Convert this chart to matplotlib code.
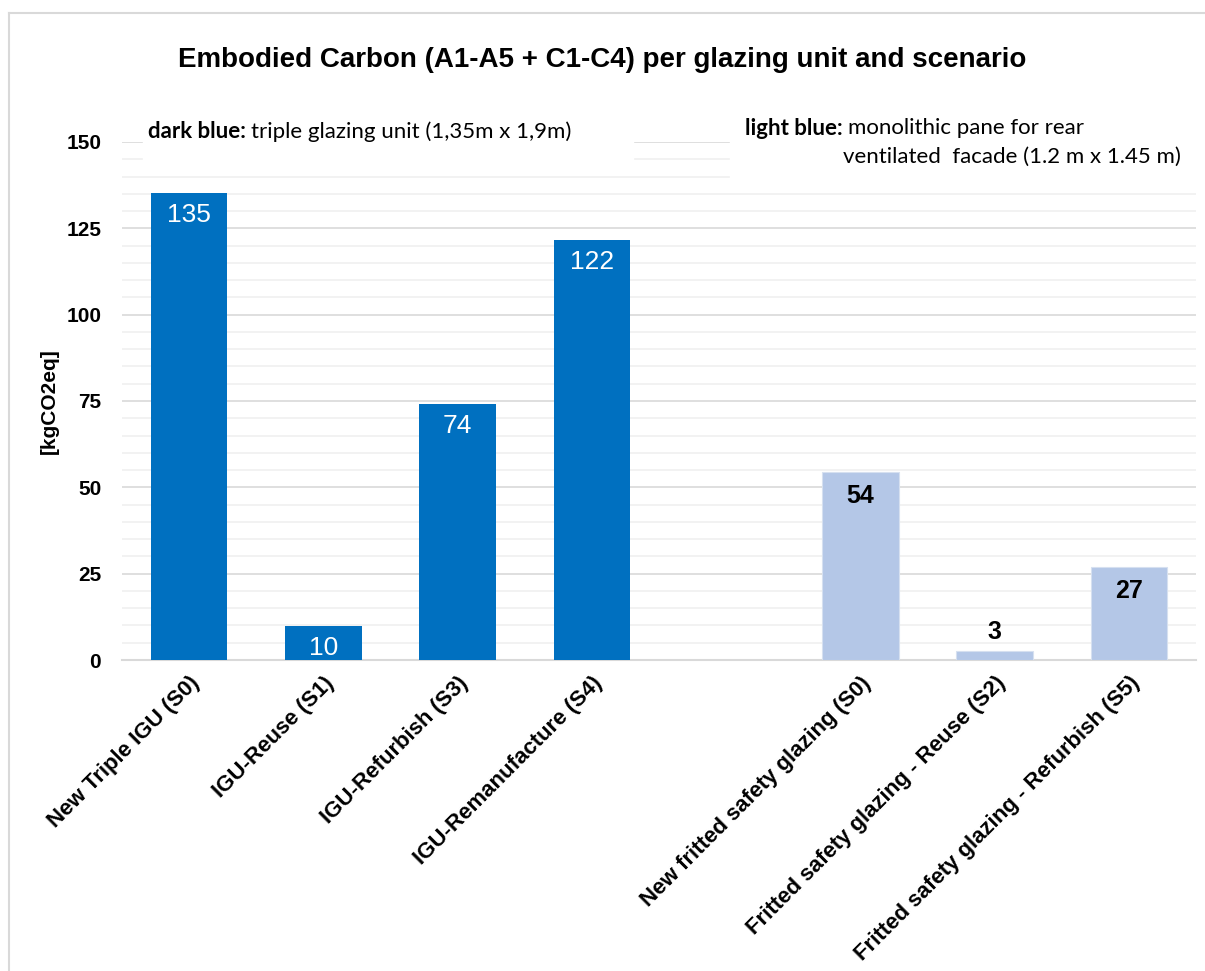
import matplotlib.pyplot as plt
import numpy as np

# data
labels = [
    "New Triple IGU (S0)",
    "IGU-Reuse (S1)",
    "IGU-Refurbish (S3)",
    "IGU-Remanufacture (S4)",
    "",
    "New fritted safety glazing (S0)",
    "Fritted safety glazing - Reuse (S2)",
    "Fritted safety glazing - Refurbish (S5)",
]
igu_values = [135.3, 9.9, 74.2, 121.7, np.nan, np.nan, np.nan, np.nan]
pane_values = [np.nan, np.nan, np.nan, np.nan, np.nan, 54.5, 2.6, 26.9]
igu_text = ["135", "10", "74", "122"]
pane_text = ["54", "3", "27"]
yticks = [0, 25, 50, 75, 100, 125, 150]

dark_blue = "#0070C0"
light_blue = "#B4C7E7"

plt.rcParams["font.family"] = ["Liberation Sans", "DejaVu Sans"]

W, H = 1205, 971
fig = plt.figure(figsize=(W / 100, H / 100), dpi=100)
ax = fig.add_axes([122 / W, 1 - 660 / H, 1074 / W, 518 / H])

x = np.arange(len(labels))
ax.bar(x, igu_values, width=0.57, color=dark_blue, zorder=3)
ax.bar(x, pane_values, width=0.57, color=light_blue,
       edgecolor="#D6E0F0", linewidth=0.8, zorder=3)

for xi, v, t in zip(x[:4], igu_values[:4], igu_text):
    ax.text(xi, v - 3, t, ha="center", va="top", color="white",
            fontsize=19, zorder=4)

for xi, v, t in zip(x[5:], pane_values[5:], pane_text):
    if v < 10:
        ax.text(xi, v + 2, t, ha="center", va="bottom", color="black",
                fontsize=18, fontweight="bold", zorder=4)
    else:
        ax.text(xi, v - 3.5, t, ha="center", va="top", color="black",
                fontsize=18, fontweight="bold", zorder=4)

ax.set_xlim(-0.5, len(labels) - 0.5)
ax.set_ylim(0, 150)
ax.set_yticks(yticks)
ax.set_yticks(np.arange(0, 151, 5), minor=True)
ax.grid(axis="y", which="major", color="#D9D9D9", linewidth=1.2, zorder=0)
ax.grid(axis="y", which="minor", color="#F0F0F0", linewidth=1.2, zorder=0)
ax.tick_params(axis="y", which="both", length=0, pad=15, labelsize=15)
for lbl in ax.get_yticklabels():
    lbl.set_fontweight("bold")

ax.set_xticks(x)
ax.set_xticklabels(labels, rotation=45, ha="right", rotation_mode="anchor",
                   fontsize=16, fontweight="bold")
ax.tick_params(axis="x", length=0, pad=9)
for s in ["top", "right", "left"]:
    ax.spines[s].set_visible(False)
ax.spines["bottom"].set_color("#D9D9D9")
ax.spines["bottom"].set_linewidth(1.5)

fig.text(49 / W, 1 - 401 / H, "[kgCO2eq]", rotation=90, ha="center", va="center",
         fontsize=15, fontweight="bold")

fig.text(0.5, 1 - 60 / H, "Embodied Carbon (A1-A5 + C1-C4) per glazing unit and scenario",
         ha="center", va="center", fontsize=20, fontweight="bold")

# white boxes behind the notes, they hide the gridlines
fig.patches.append(plt.Rectangle((143 / W, 1 - 168 / H), 490 / W, 58 / H,
                                 transform=fig.transFigure, color="white", zorder=5))
fig.patches.append(plt.Rectangle((730 / W, 1 - 185 / H), 475 / W, 75 / H,
                                 transform=fig.transFigure, color="white", zorder=5))

note_font = ["Lato", "DejaVu Sans"]
renderer = fig.canvas.get_renderer()


def note(x0, y0, bold, rest):
    b = fig.text(x0 / W, 1 - y0 / H, bold, fontsize=16, fontweight="bold",
                 family=note_font, va="center", zorder=6)
    bb = b.get_window_extent(renderer)
    fig.text((bb.x1 + 5) / W, 1 - y0 / H, rest, fontsize=16,
             family=note_font, va="center", zorder=6)


note(148, 132, "dark blue:", "triple glazing unit (1,35m x 1,9m)")
note(745, 128, "light blue:", "monolithic pane for rear")
fig.text(1181 / W, 1 - 157 / H, "ventilated  facade (1.2 m x 1.45 m)", fontsize=16,
         family=note_font, va="center", ha="right", zorder=6)

# outer chart border (left and top visible)
fig.add_artist(plt.Line2D([9 / W, 9 / W], [0, 1 - 13 / H], color="#D9D9D9",
                          linewidth=1.5, transform=fig.transFigure))
fig.add_artist(plt.Line2D([9 / W, 1], [1 - 13 / H, 1 - 13 / H], color="#D9D9D9",
                          linewidth=1.5, transform=fig.transFigure))

fig.savefig("out.png", dpi=100)
